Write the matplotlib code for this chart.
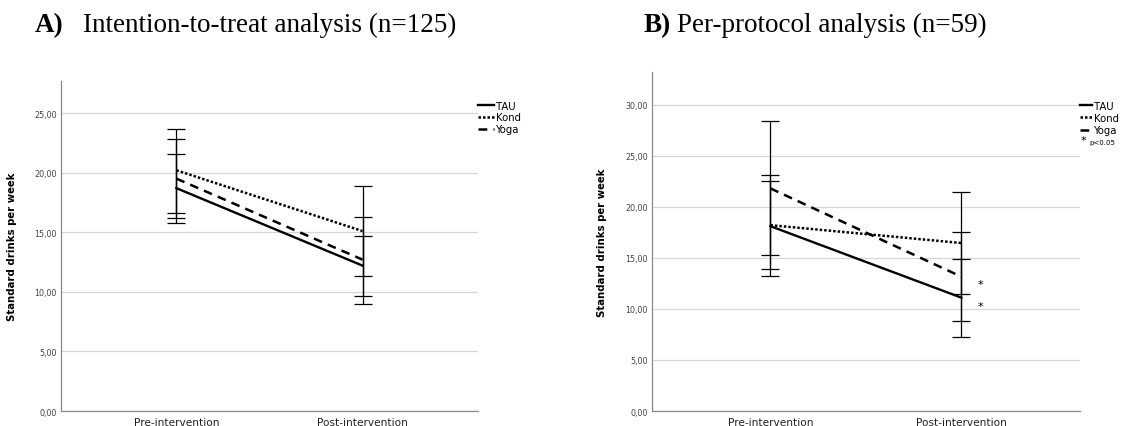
import matplotlib.pyplot as plt
from matplotlib.lines import Line2D

timepoints = ["Pre-intervention", "Post-intervention"]
groups = ["TAU", "Kond", "Yoga"]

# A) intention-to-treat: means and CI ends per group, [pre, post]
itt_mean = [[18.7, 12.2], [20.2, 15.1], [19.5, 12.7]]
itt_low = [[15.8, 9.65], [16.6, 11.3], [16.2, 8.95]]
itt_high = [[21.6, 14.7], [23.7, 18.9], [22.8, 16.3]]

# B) per-protocol
pp_mean = [[18.1, 11.1], [18.2, 16.45], [21.8, 13.15]]
pp_low = [[13.2, 7.2], [13.9, 11.5], [15.3, 8.8]]
pp_high = [[23.1, 14.9], [22.5, 21.4], [28.4, 17.5]]
pp_star_y = [12.4, 10.3]

styles = [dict(linestyle="-", linewidth=1.7),
          dict(linestyle=(0, (1, 0.8)), linewidth=1.8),
          dict(linestyle=(0, (3.5, 2.5)), linewidth=1.8)]

grid_col = "#d6d6d6"
tick_col = "#444444"


def draw_panel(ax, means, lows, highs, ymax, yticks):
    x = list(range(len(timepoints)))
    for i, g in enumerate(groups):
        m = means[i]
        err = [[m[k] - lows[i][k] for k in x], [highs[i][k] - m[k] for k in x]]
        ax.errorbar(x, m, yerr=err, fmt="none", ecolor="black",
                    elinewidth=0.9, capsize=6.5, capthick=0.9, zorder=3)
        ax.plot(x, m, color="black", label=g, zorder=4, **styles[i])
    ax.set_xlim(-0.62, 1.62)
    ax.set_ylim(0, ymax)
    ax.set_yticks(yticks)
    ax.set_yticklabels([("%.2f" % v).replace(".", ",") for v in yticks],
                       fontsize=5.8, color=tick_col)
    ax.set_xticks(x)
    ax.set_xticklabels(timepoints, fontsize=7.6, color="#222222")
    ax.tick_params(axis="both", length=0)
    ax.tick_params(axis="x", pad=4)
    ax.tick_params(axis="y", pad=3)
    ax.grid(axis="y", color=grid_col, linewidth=0.9)
    ax.set_axisbelow(True)
    for s in ["top", "right"]:
        ax.spines[s].set_visible(False)
    ax.spines["left"].set_color("#888888")
    ax.spines["bottom"].set_color("#888888")
    ax.spines["left"].set_linewidth(0.9)
    ax.spines["bottom"].set_linewidth(0.9)
    ax.set_ylabel("Standard drinks per week", fontsize=7.3, fontweight="bold")
    handles = [Line2D([0], [0], color="black", **styles[i]) for i in range(3)]
    return handles


fig = plt.figure(figsize=(11.26, 4.27), dpi=100)

axA = fig.add_axes([0.0542, 0.0351, 0.3703, 0.773])
hA = draw_panel(axA, itt_mean, itt_low, itt_high, 27.7, [0, 5, 10, 15, 20, 25])
axA.yaxis.set_label_coords(-0.106, 0.5)
axA.legend(hA, groups, loc="upper left", bbox_to_anchor=(1.0, 0.94),
           frameon=False, fontsize=7.3, handlelength=1.6, handletextpad=0.15,
           labelspacing=0.17, borderpad=0, borderaxespad=0)

axB = fig.add_axes([0.579, 0.0351, 0.380, 0.794])
hB = draw_panel(axB, pp_mean, pp_low, pp_high, 33.2, [0, 5, 10, 15, 20, 25, 30])
axB.yaxis.set_label_coords(-0.105, 0.5)
axB.legend(hB, groups, loc="upper left", bbox_to_anchor=(1.0, 0.915),
           frameon=False, fontsize=7.3, handlelength=1.2, handletextpad=0.15,
           labelspacing=0.22, borderpad=0, borderaxespad=0)
for yv in pp_star_y:
    axB.text(1.1, yv, "*", fontsize=8, ha="center", va="center")
fig.text(1083 / 1126, 1 - 141 / 427, "*", fontsize=8, ha="center", va="center")
fig.text(1089 / 1126, 1 - 143 / 427, "p<0.05", fontsize=5, ha="left", va="center")

serif = "Liberation Serif"
fig.text(35 / 1126, 1 - 32 / 427, "A)", fontsize=19.5, fontweight="bold",
         family=serif, va="baseline")
fig.text(83 / 1126, 1 - 32 / 427, "Intention-to-treat analysis (n=125)",
         fontsize=19.5, family=serif, va="baseline")
fig.text(644 / 1126, 1 - 32 / 427, "B)", fontsize=19.5, fontweight="bold",
         family=serif, va="baseline")
fig.text(677 / 1126, 1 - 32 / 427, "Per-protocol analysis (n=59)",
         fontsize=19.5, family=serif, va="baseline")

fig.savefig("out.png", dpi=100)
